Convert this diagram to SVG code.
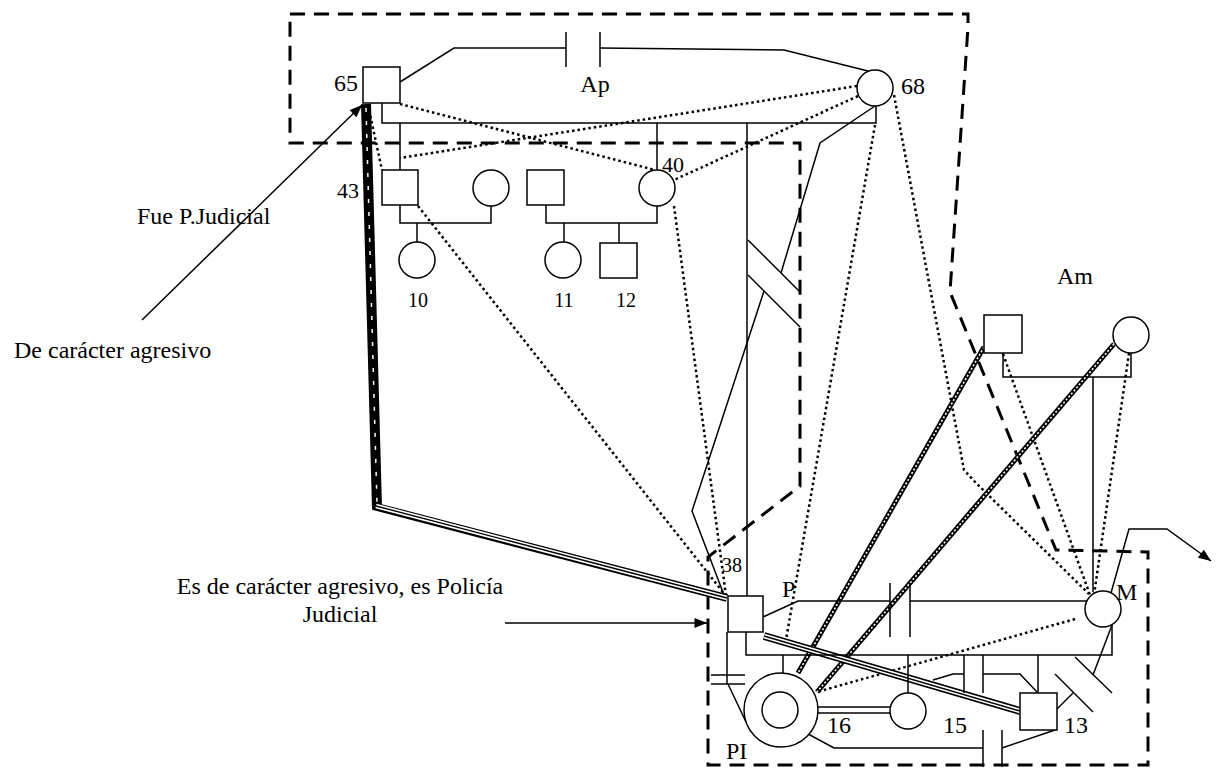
<svg xmlns="http://www.w3.org/2000/svg" width="1216" height="769" viewBox="0 0 1216 769">
<style>
.ln{fill:none;stroke:#000;stroke-width:1.5}
.dot{fill:none;stroke:#000;stroke-width:2.5;stroke-dasharray:2.5 3}
.bd{fill:none;stroke:#000;stroke-width:3;stroke-dasharray:15 9}
.nd{fill:#fff;stroke:#000;stroke-width:1.5}
.hb{fill:none;stroke:#000;stroke-width:5}
.hw{fill:none;stroke:#fff;stroke-width:1.6;stroke-dasharray:2 2}
.tb{fill:none;stroke:#000;stroke-width:8}
.tw{fill:none;stroke:#fff;stroke-width:4.5}
.tc{fill:none;stroke:#000;stroke-width:1.4}
.t{font-family:"Liberation Serif","Times New Roman",serif;font-size:24px;fill:#000}
.s{font-size:22px}
.xs{font-size:20px}
</style>
<defs>
<marker id="ah" viewBox="0 0 10 8" refX="10" refY="4" markerWidth="13" markerHeight="10" markerUnits="userSpaceOnUse" orient="auto"><path d="M0,0 L10,4 L0,8 z" fill="#000"/></marker>
</defs>
<rect width="1216" height="769" fill="#fff"/>
<g id="boundary">
<path class="bd" d="M290,14 L968,14 L968,27 L950,292 L1056,550 L1148,552 L1148,765 L708,765 L708,557 L800,486 L800,143 L290,143 Z"/>
</g>
<g id="connectors">
<polyline class="ln" points="400,82 454,48 566,48"/>
<line class="ln" x1="566" y1="32" x2="566" y2="67"/>
<line class="ln" x1="600" y1="32" x2="600" y2="67"/>
<polyline class="ln" points="600,48 784,50 868,71"/>
<polyline class="ln" points="382,103 382,123 876,123 876,106"/>
<line class="ln" x1="400" y1="123" x2="400" y2="170"/>
<line class="ln" x1="657" y1="123" x2="657" y2="170"/>
<line class="ln" x1="747" y1="123" x2="747" y2="596"/>
<line class="ln" x1="748" y1="240" x2="800" y2="292"/>
<line class="ln" x1="748" y1="275" x2="800" y2="327"/>
<polyline class="ln" points="400,205 400,223 491,223 491,206"/>
<line class="ln" x1="417" y1="223" x2="417" y2="242"/>
<polyline class="ln" points="546,205 546,223 657,223 657,206"/>
<line class="ln" x1="564" y1="223" x2="564" y2="242"/>
<line class="ln" x1="619" y1="223" x2="619" y2="243"/>
<polyline class="ln" points="875,106 820,143 781,273"/>
<polyline class="ln" points="764,291 692,511 724,595"/>
<line class="dot" x1="400" y1="104" x2="655" y2="170"/>
<line class="dot" x1="857" y1="86" x2="400" y2="158"/>
<line class="dot" x1="858" y1="96" x2="674" y2="180"/>
<line class="dot" x1="368" y1="105" x2="382" y2="170"/>
<line class="dot" x1="418" y1="206" x2="726" y2="596"/>
<line class="dot" x1="674" y1="206" x2="726" y2="596"/>
<line class="dot" x1="875" y1="125" x2="786" y2="640"/>
<polyline class="dot" points="894,95 964,470 975,482 1089,594"/>
<line class="dot" x1="1003" y1="354" x2="1090" y2="595"/>
<line class="dot" x1="1129" y1="353" x2="1094" y2="595"/>
<line class="dot" x1="1075" y1="619" x2="817" y2="692"/>
<polyline class="ln" points="1003,353 1003,377 1131,377 1131,353"/>
<line class="ln" x1="1093" y1="377" x2="1093" y2="592"/>
<line class="hb" x1="984" y1="347" x2="798" y2="673"/>
<line class="hw" x1="984" y1="347" x2="798" y2="673"/>
<line class="hb" x1="1114" y1="344" x2="817" y2="692"/>
<line class="hw" x1="1114" y1="344" x2="817" y2="692"/>
<line x1="366" y1="104" x2="377" y2="508" stroke="#000" stroke-width="10"/>
<line x1="366" y1="108" x2="377" y2="504" stroke="#fff" stroke-width="1.5" stroke-dasharray="4 9"/>
<path class="tb" d="M373,506 L727,598"/>
<path class="tw" d="M376,506 L727,598"/>
<path class="tc" d="M376,506 L727,598"/>
<path class="tb" d="M764,636 L1020,711"/>
<path class="tw" d="M764,636 L1020,711"/>
<path class="tc" d="M764,636 L1020,711"/>
<polyline class="ln" points="763,617 798,601 890,601"/>
<line class="ln" x1="890" y1="583" x2="890" y2="637"/>
<line class="ln" x1="910" y1="583" x2="910" y2="637"/>
<line class="ln" x1="910" y1="601" x2="1087" y2="601"/>
<polyline class="ln" points="746,632 746,655 1112,655 1112,625"/>
<line class="ln" x1="783" y1="655" x2="783" y2="673"/>
<line class="ln" x1="908" y1="655" x2="908" y2="693"/>
<line class="ln" x1="1038" y1="655" x2="1038" y2="693"/>
<line class="ln" x1="964" y1="655" x2="964" y2="693"/>
<line class="ln" x1="983" y1="655" x2="983" y2="693"/>
<polyline class="ln" points="933,680 953,674 964,674"/>
<polyline class="ln" points="983,674 1020,674 1037,692"/>
<line class="ln" x1="727" y1="632" x2="727" y2="684"/>
<line class="ln" x1="711" y1="675" x2="745" y2="675"/>
<line class="ln" x1="711" y1="684" x2="745" y2="684"/>
<line class="ln" x1="728" y1="684" x2="746" y2="722"/>
<line class="ln" x1="818" y1="707" x2="890" y2="707"/>
<line class="ln" x1="818" y1="713" x2="890" y2="713"/>
<polyline class="ln" points="797,728 834,748 983,748"/>
<line class="ln" x1="983" y1="730" x2="983" y2="767"/>
<line class="ln" x1="1002" y1="730" x2="1002" y2="767"/>
<line class="ln" x1="1002" y1="748" x2="1055" y2="730"/>
<line class="ln" x1="1057" y1="709" x2="1073" y2="693"/>
<line class="ln" x1="1055" y1="674" x2="1093" y2="712"/>
<line class="ln" x1="1075" y1="657" x2="1112" y2="693"/>
<line class="ln" x1="1093" y1="675" x2="1112" y2="625"/>
<polyline class="ln" points="1111,593 1129,529 1167,529 1211,561" marker-end="url(#ah)"/>
<line class="ln" x1="142" y1="320" x2="362" y2="105" marker-end="url(#ah)"/>
<line class="ln" x1="505" y1="623" x2="707" y2="623" marker-end="url(#ah)"/>
</g>
<g id="n65"><rect class="nd" x="363" y="67" width="37" height="36"/><text class="t" x="358" y="91" text-anchor="end">65</text></g>
<g id="n68"><circle class="nd" cx="875" cy="88" r="18"/><text class="t" x="901" y="94">68</text></g>
<g id="n43"><rect class="nd" x="382" y="170" width="36" height="35"/><text class="t s" x="359" y="198" text-anchor="end">43</text></g>
<g id="n43w"><circle class="nd" cx="491" cy="188" r="18"/></g>
<g id="n40h"><rect class="nd" x="527" y="170" width="37" height="35"/></g>
<g id="n40"><circle class="nd" cx="657" cy="188" r="18"/><text class="t s" x="662" y="172">40</text></g>
<g id="n10"><circle class="nd" cx="417" cy="260" r="18"/><text class="t xs" x="418" y="307" text-anchor="middle">10</text></g>
<g id="n11"><circle class="nd" cx="563" cy="260" r="18"/><text class="t xs" x="564" y="307" text-anchor="middle">11</text></g>
<g id="n12"><rect class="nd" x="600" y="243" width="37" height="35"/><text class="t xs" x="626" y="307" text-anchor="middle">12</text></g>
<g id="nAmF"><rect class="nd" x="984" y="315" width="38" height="38"/></g>
<g id="nAmM"><circle class="nd" cx="1131" cy="335" r="18"/></g>
<g id="nP"><rect class="nd" x="728" y="596" width="35" height="36"/><text class="t xs" x="722" y="572">38</text><text class="t" x="782" y="597">P</text></g>
<g id="nM"><circle class="nd" cx="1103" cy="609" r="18"/><text class="t" x="1116" y="600">M</text></g>
<g id="n16"><circle class="nd" cx="781" cy="710" r="37"/><circle class="nd" cx="780" cy="710" r="18"/><text class="t" x="827" y="733">16</text></g>
<g id="n15"><circle class="nd" cx="908" cy="711" r="18"/><text class="t" x="943" y="733">15</text></g>
<g id="n13"><rect class="nd" x="1020" y="693" width="37" height="37"/><text class="t" x="1064" y="733">13</text></g>
<g id="labels">
<text class="t" x="595" y="92" text-anchor="middle">Ap</text>
<text class="t" x="1057" y="284">Am</text>
<text class="t" x="726" y="759">PI</text>
<text class="t" x="137" y="224">Fue P.Judicial</text>
<text class="t" x="14" y="358">De carácter agresivo</text>
<text class="t" x="340" y="594" text-anchor="middle">Es de carácter agresivo, es Policía</text>
<text class="t" x="340" y="622" text-anchor="middle">Judicial</text>
</g>
</svg>
